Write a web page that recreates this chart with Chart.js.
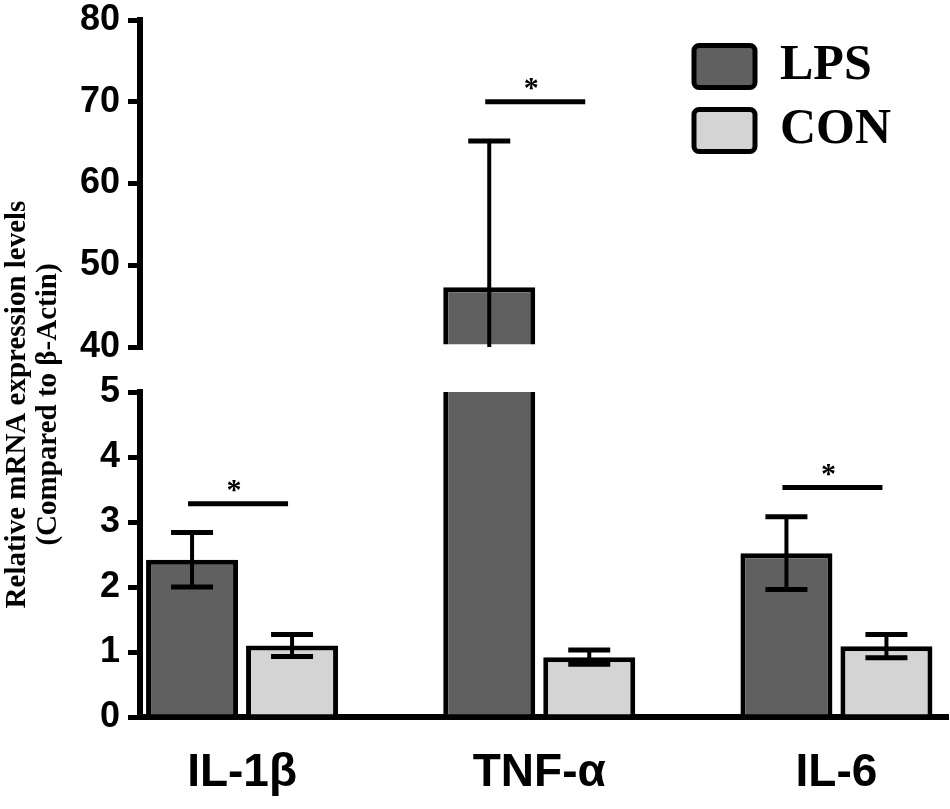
<!DOCTYPE html>
<html>
<head>
<meta charset="utf-8">
<title>Relative mRNA expression levels</title>
<script src="https://cdn.jsdelivr.net/npm/chart.js@4.4.1/dist/chart.umd.min.js"></script>
<style>
    html, body { margin: 0; padding: 0; background: #fff; }
    #wrap { position: relative; width: 950px; height: 809px; }
</style>
</head>
<body>
<div id="wrap"><canvas id="chart"></canvas></div>
<script>
// Values
const genes = ['IL-1β', 'TNF-α', 'IL-6'];
const lpsMeans = [2.42, 47.3, 2.52];
const lpsErrors = [0.42, 17.9, 0.56];
const conMeans = [1.10, 0.92, 1.09];
const conErrors = [0.17, 0.11, 0.18];

// significance bars (height in data units, axis they belong to)
const sigHeights = [3.28, 70, 3.53];
const sigAxes = ['yLow', 'yHigh', 'yLow'];

// broken y axis tick labels
const lowTicks = [0, 1, 2, 3, 4, 5];
const highTicks = [40, 50, 60, 70, 80];

const LOW_MAX = lowTicks[lowTicks.length - 1];
const HIGH_MIN = highTicks[0];
const HIGH_MAX = highTicks[highTicks.length - 1];

const LPS_FILL = '#606060';
const CON_FILL = '#d4d4d4';
const AXIS_W = 72;           // width of each left axis (title takes the rest)
const PLOT_TOP = 20;
const X_MIN = -0.3434;
const X_MAX = 2.3754;

// bars are cut at the top of the lower segment; the upper segment only shows what is above 40
const lowLps = lpsMeans.map((v, i) => ({ x: i, y: Math.min(v, LOW_MAX) }));
const lowCon = conMeans.map((v, i) => ({ x: i, y: Math.min(v, LOW_MAX) }));
const highLps = lpsMeans.map((v, i) => ({ x: i, y: v > HIGH_MIN ? v : null }));

const tickFont = { family: 'Liberation Sans', size: 36, weight: 'bold', lineHeight: 1 };

function yAxis(min, max, ticks, weight) {
    return {
        type: 'linear',
        position: 'left',
        stack: 'v',
        stackWeight: weight,
        min: min,
        max: max,
        beginAtZero: false,
        afterBuildTicks: s => { s.ticks = ticks.map(v => ({ value: v })); },
        afterFit: s => {
            s.width = AXIS_W;
            s.paddingTop = PLOT_TOP;
            s.paddingBottom = 0;
        },
        grid: { display: true, drawOnChartArea: false, drawTicks: true, tickLength: 12, lineWidth: 5, color: '#000' },
        border: { display: true, color: '#000', width: 6 },
        ticks: { autoSkip: false, padding: 8, color: '#000', font: tickFont }
    };
}

const errorBars = {
    id: 'errorBars',
    afterDatasetsDraw(chart) {
        const ctx = chart.ctx;
        chart.data.datasets.forEach((ds, di) => {
            const meta = chart.getDatasetMeta(di);
            const yScale = chart.scales[ds.yAxisID];
            meta.data.forEach((bar, i) => {
                if (ds.data[i].y === null) return;
                const hi = ds.means[i] + ds.errors[i];
                const lo = ds.means[i] - ds.errors[i];
                const top = Math.min(hi, yScale.max);
                const bottom = Math.max(lo, yScale.min);
                if (top <= bottom) return;
                ctx.save();
                ctx.strokeStyle = '#000';
                ctx.lineCap = 'butt';
                ctx.lineWidth = 4;
                ctx.beginPath();
                ctx.moveTo(bar.x, yScale.getPixelForValue(top));
                ctx.lineTo(bar.x, yScale.getPixelForValue(bottom));
                ctx.stroke();
                ctx.lineWidth = 5;
                const half = 21;
                [hi, lo].forEach(v => {
                    if (v > yScale.max || v < yScale.min) return;
                    const y = yScale.getPixelForValue(v);
                    ctx.beginPath();
                    ctx.moveTo(bar.x - half, y);
                    ctx.lineTo(bar.x + half, y);
                    ctx.stroke();
                });
                ctx.restore();
            });
        });
    }
};

const sigMarks = {
    id: 'sigMarks',
    afterDatasetsDraw(chart) {
        const ctx = chart.ctx;
        const lps = chart.getDatasetMeta(0).data;
        const con = chart.getDatasetMeta(1).data;
        sigHeights.forEach((h, i) => {
            const y = chart.scales[sigAxes[i]].getPixelForValue(h);
            const x1 = lps[i].x - 4;
            const x2 = con[i].x - 4;
            ctx.save();
            ctx.strokeStyle = '#000';
            ctx.lineWidth = 5;
            ctx.beginPath();
            ctx.moveTo(x1, y);
            ctx.lineTo(x2, y);
            ctx.stroke();
            ctx.fillStyle = '#000';
            ctx.font = 'bold 30px "Liberation Serif"';
            ctx.textAlign = 'center';
            ctx.textBaseline = 'alphabetic';
            ctx.fillText('*', (x1 + x2) / 2 - 4, y - 5);
            ctx.restore();
        });
    }
};

// legend sits inside the plot, top right
const legendPlacer = {
    id: 'legendPlacer',
    afterLayout(chart) {
        const lg = chart.legend;
        const w = lg.width, h = lg.height;
        lg.left = 680;
        lg.top = 27.5;
        lg.right = lg.left + w;
        lg.bottom = lg.top + h;
    }
};

new Chart(document.getElementById('chart'), {
    type: 'bar',
    data: {
        datasets: [
            {
                label: 'LPS',
                data: lowLps,
                yAxisID: 'yLow',
                stack: 'LPS',
                backgroundColor: LPS_FILL,
                borderColor: '#000',
                // the cut bar keeps only its side walls
                borderWidth: ctx => lpsMeans[ctx.dataIndex] > LOW_MAX
                    ? { top: 0, bottom: 0, left: 5, right: 5 } : 5,
                borderSkipped: 'start',
                means: lpsMeans,
                errors: lpsErrors
            },
            {
                label: 'CON',
                data: lowCon,
                yAxisID: 'yLow',
                stack: 'CON',
                backgroundColor: CON_FILL,
                borderColor: '#000',
                borderWidth: 5,
                borderSkipped: 'start',
                means: conMeans,
                errors: conErrors
            },
            {
                label: 'LPS',
                data: highLps,
                yAxisID: 'yHigh',
                stack: 'LPS',
                base: HIGH_MIN,
                backgroundColor: LPS_FILL,
                borderColor: '#000',
                borderWidth: 5,
                borderSkipped: 'start',
                means: lpsMeans,
                errors: lpsErrors
            }
        ]
    },
    options: {
        responsive: true,
        maintainAspectRatio: false,
        animation: false,
        layout: { padding: { top: 0, right: 2, left: 0, bottom: 0 } },
        datasets: {
            bar: { categoryPercentage: 0.673, barPercentage: 0.92 }
        },
        plugins: {
            tooltip: { enabled: false },
            title: {
                display: true,
                position: 'left',
                fullSize: true,
                text: ['Relative mRNA expression levels', '(Compared to β-Actin)'],
                color: '#000',
                font: { family: 'Liberation Serif', size: 29, weight: 'bold', lineHeight: '31px' },
                padding: { top: 2, bottom: 4 }
            },
            legend: {
                position: 'chartArea',
                align: 'start',
                labels: {
                    filter: item => item.datasetIndex < 2,
                    boxWidth: 61,
                    boxHeight: 42,
                    padding: 14,
                    useBorderRadius: true,
                    borderRadius: 5,
                    color: '#000',
                    font: { family: 'Liberation Serif', size: 50, weight: 'bold' }
                }
            }
        },
        scales: {
            x: {
                type: 'linear',
                min: X_MIN,
                max: X_MAX,
                offset: false,
                afterBuildTicks: s => { s.ticks = genes.map((g, i) => ({ value: i })); },
                afterFit: s => { s.height = 92; },
                grid: { display: false, drawTicks: false },
                border: { display: true, color: '#000', width: 6 },
                ticks: {
                    autoSkip: false,
                    maxRotation: 0,
                    padding: 29,
                    color: '#000',
                    font: { family: 'Liberation Sans', size: 46, weight: 'bold' },
                    callback: (v, i) => genes[i]
                }
            },
            yLow: yAxis(0, LOW_MAX, lowTicks, 325),
            ySpacer: {
                type: 'linear',
                position: 'left',
                stack: 'v',
                stackWeight: 45,
                min: 0,
                max: 1,
                afterFit: s => { s.width = AXIS_W; },
                grid: { display: false, drawTicks: false },
                border: { display: false },
                ticks: { display: false }
            },
            yHigh: yAxis(HIGH_MIN, HIGH_MAX, highTicks, 327)
        }
    },
    plugins: [errorBars, sigMarks, legendPlacer]
});
</script>
</body>
</html>
